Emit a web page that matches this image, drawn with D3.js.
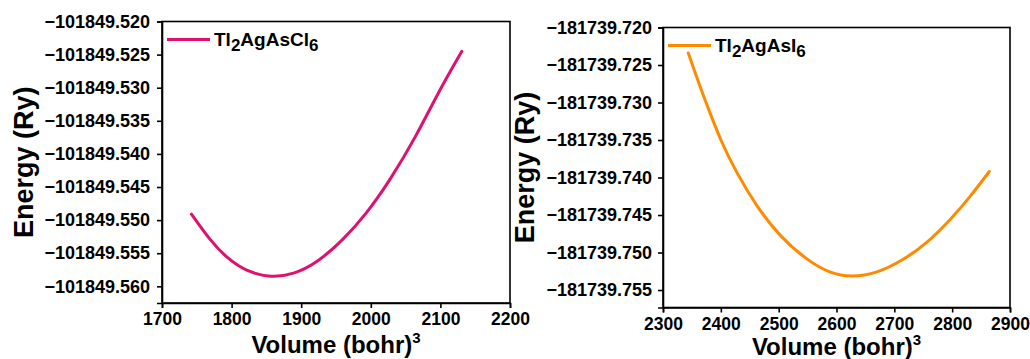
<!DOCTYPE html>
<html>
<head>
<meta charset="utf-8">
<script src="https://cdn.jsdelivr.net/npm/d3@7"></script>
<style>
  html, body { margin: 0; padding: 0; background: #fff; }
  svg { display: block; }
  .tick line, .domain { stroke: #000; stroke-width: 1.6; }
</style>
</head>
<body>
<svg id="chart" width="1030" height="359" font-family="Liberation Sans, Arial, sans-serif" font-weight="bold"></svg>
<script>
// E–V curves (volume in bohr^3, energy in Ry)
const clVolume = [1742.3, 1768.6, 1792.7, 1821.4, 1857.4, 1888.5, 1922.2, 1960.4, 1994.1, 2027.6, 2066.0, 2094.8, 2130.8];
const clEnergy = [-101849.5491, -101849.5530, -101849.5557, -101849.5578, -101849.5587, -101849.5582, -101849.5565,
                  -101849.5530, -101849.5490, -101849.5440, -101849.5372, -101849.5311, -101849.5245];
const clXTicks = [1700, 1800, 1900, 2000, 2100, 2200];
const clYTicks = [-101849.520, -101849.525, -101849.530, -101849.535, -101849.540, -101849.545, -101849.550, -101849.555, -101849.560];

const iVolume = [2343.7, 2364.0, 2381.3, 2401.5, 2427.4, 2462.0, 2502.3, 2548.5, 2588.8, 2626.3, 2669.5, 2715.5, 2756.0, 2796.3, 2830.9, 2864.2];
const iEnergy = [-181739.7234, -181739.7279, -181739.7314, -181739.7354, -181739.7394, -181739.7439, -181739.7479, -181739.7510,
                 -181739.7528, -181739.7533, -181739.7528, -181739.7510, -181739.7488, -181739.7457, -181739.7426, -181739.7392];
const iXTicks = [2300, 2400, 2500, 2600, 2700, 2800, 2900];
const iYTicks = [-181739.720, -181739.725, -181739.730, -181739.735, -181739.740, -181739.745, -181739.750, -181739.755];

const FONT = 'Liberation Sans, Arial, sans-serif';

const panels = [
  { x0: 162, x1: 510, y0: 21.5, y1: 303, xDom: [1700, 2200], yDom: [-101849.56252, -101849.520],
    vol: clVolume, en: clEnergy, xt: clXTicks, yt: clYTicks, color: '#e0106f', pad: 7, titleY: 353,
    legend: [['Tl', false], ['2', true], ['AgAsCl', false], ['6', true]] },
  { x0: 663, x1: 1010, y0: 27.5, y1: 307.5, xDom: [2300, 2900], yDom: [-181739.75733, -181739.720],
    vol: iVolume, en: iEnergy, xt: iXTicks, yt: iYTicks, color: '#ff8a00', pad: 6, titleY: 355,
    legend: [['Tl', false], ['2', true], ['AgAsI', false], ['6', true]] },
];

const svg = d3.select('#chart');
const fmt = d3.format('.3f');

panels.forEach(p => {
  const x = d3.scaleLinear().domain(p.xDom).range([p.x0, p.x1]);
  const y = d3.scaleLinear().domain(p.yDom).range([p.y1, p.y0]);
  const g = svg.append('g');

  g.append('rect')
    .attr('x', p.x0).attr('y', p.y0)
    .attr('width', p.x1 - p.x0).attr('height', p.y1 - p.y0)
    .attr('fill', 'none').attr('stroke', '#000').attr('stroke-width', 1.6);

  const ax = g.append('g').attr('transform', `translate(0,${p.y1})`)
    .call(d3.axisBottom(x).tickValues(p.xt).tickFormat(d3.format('d')).tickSize(5).tickPadding(5));
  const ay = g.append('g').attr('transform', `translate(${p.x0},0)`)
    .call(d3.axisLeft(y).tickValues(p.yt).tickFormat(d => fmt(d)).tickSize(5).tickPadding(p.pad));
  ax.attr('font-size', 17.5);
  ay.attr('font-size', 18);
  [ax, ay].forEach(a => a.attr('font-family', FONT).attr('font-weight', 'bold')
    .selectAll('text').attr('fill', '#000'));

  const pts = p.vol.map((v, i) => [v, p.en[i]]);
  g.append('path').datum(pts)
    .attr('fill', 'none').attr('stroke', p.color).attr('stroke-width', 3)
    .attr('stroke-linecap', 'round')
    .attr('d', d3.line().x(d => x(d[0])).y(d => y(d[1])).curve(d3.curveBasis));

  // legend
  const ly = p.y0 + 18;
  g.append('line').attr('x1', p.x0 + 5).attr('x2', p.x0 + 48).attr('y1', ly).attr('y2', ly)
    .attr('stroke', p.color).attr('stroke-width', 3);
  const lt = g.append('text').attr('x', p.x0 + 52).attr('y', ly + 6).attr('font-size', 19);
  let sub = false;
  p.legend.forEach(([s, isSub]) => {
    const dy = isSub === sub ? 0 : (isSub ? 5 : -5);
    lt.append('tspan').attr('dy', dy).attr('font-size', isSub ? 17 : 19).text(s);
    sub = isSub;
  });

  // axis titles
  const xt = g.append('text').attr('x', (p.x0 + p.x1) / 2).attr('y', p.titleY)
    .attr('text-anchor', 'middle').attr('font-size', 24);
  xt.append('tspan').text('Volume (bohr)');
  xt.append('tspan').attr('dy', -10).attr('font-size', 15).text('3');

  g.append('text')
    .attr('transform', `translate(${p.x0 - 129},${(p.y0 + p.y1) / 2}) rotate(-90)`)
    .attr('text-anchor', 'middle').attr('font-size', 27)
    .text('Energy (Ry)');
});
</script>
</body>
</html>
